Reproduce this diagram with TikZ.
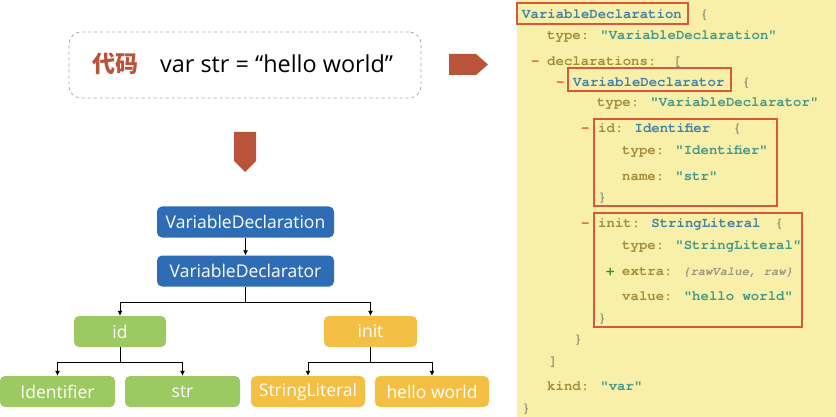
\documentclass[tikz,border=0pt]{standalone}
\usepackage{fontspec}
\usetikzlibrary{arrows.meta}
\setmainfont{Open Sans}
\newfontfamily\codefont{TeX Gyre Cursor}
\newfontfamily\cjkfont{Noto Sans CJK SC}
\definecolor{brick}{HTML}{B9533A}
\definecolor{tblue}{HTML}{2E6DB5}
\definecolor{tgreen}{HTML}{9DC962}
\definecolor{tyellow}{HTML}{F3BF45}
\definecolor{panel}{HTML}{F8F0A8}
\definecolor{keyc}{HTML}{A58E3A}
\definecolor{valc}{HTML}{48998A}
\definecolor{typc}{HTML}{4482A8}
\definecolor{brc}{HTML}{9C9880}
\definecolor{redbox}{HTML}{D9573A}
\definecolor{plusc}{HTML}{3E8E2E}
\newcommand\ky[1]{\textcolor{keyc}{\bfseries #1}}
\newcommand\vl[1]{\textcolor{valc}{\bfseries #1}}
\newcommand\ty[1]{\textcolor{typc}{\bfseries #1}}
\newcommand\br[1]{\textcolor{brc}{\bfseries #1}}
\newcommand\mn{\textcolor{redbox}{\bfseries -}}
\tikzset{
  tnode/.style={rounded corners=5pt, minimum height=31pt, inner sep=0pt, text=white, font=\fontsize{17.5}{17.5}\selectfont},
  bluenode/.style={tnode, fill=tblue, minimum width=177pt},
  greennode/.style={tnode, fill=tgreen},
  yellownode/.style={tnode, fill=tyellow},
  arr/.style={-{Latex[length=5pt,width=5pt]}, line width=0.8pt, black},
  ln/.style={line width=0.8pt, black},
  code/.style={anchor=base west, inner sep=0pt, font=\codefont\fontsize{14}{14}\selectfont},
  hl/.style={draw=redbox, line width=1.6pt},
  bigarrow/.style={fill=brick, draw=none}
}
\begin{document}
\begin{tikzpicture}[x=1pt,y=-1pt]
\useasboundingbox (0,0) rectangle (836,417);
% code box
\node[draw=gray!70, dashed, rounded corners=12pt, minimum width=352pt, minimum height=66pt, line width=0.8pt] (codebox) at (245,65) {};
\node[anchor=base west, inner sep=0pt, text=brick, font=\cjkfont\bfseries\fontsize{23}{23}\selectfont] (cjk) at (92,73) {代码};
\node[anchor=base west, inner sep=0pt, font=\fontsize{23.4}{23.4}\selectfont] (src) at (160,73) {var str = “hello world”};
% big arrows
\path[bigarrow] (449,54) -- (476,54) -- (488,64.5) -- (476,75) -- (449,75) -- cycle;
\path[bigarrow] (234,132) -- (256,132) -- (256,161) -- (245,172) -- (234,161) -- cycle;
% tree
\node[bluenode] (vd1) at (245.5,222) {VariableDeclaration};
\node[bluenode] (vd2) at (245.5,271) {VariableDeclarator};
\node[greennode, minimum width=92pt] (id) at (120,331.5) {id};
\node[yellownode, minimum width=93pt] (init) at (370.5,331.5) {init};
\node[greennode, minimum width=115pt] (ident) at (57.5,391.5) {Identifier};
\node[greennode, minimum width=115pt] (strn) at (182.5,391.5) {str};
\node[yellownode, minimum width=114pt] (sl) at (308,391.5) {StringLiteral};
\node[yellownode, minimum width=114pt] (hw) at (432,391.5) {hello world};
\draw[arr] (vd1) -- (vd2);
\coordinate (j1) at (245.5,302);
\coordinate (j2) at (120,362);
\coordinate (j3) at (370.5,362);
\draw[ln] (vd2.south) -- (j1);
\draw[arr] (j1) -| (id.north);
\draw[arr] (j1) -| (init.north);
\draw[ln] (id.south) -- (j2);
\draw[arr] (j2) -| (ident.north);
\draw[arr] (j2) -| (strn.north);
\draw[ln] (init.south) -- (j3);
\draw[arr] (j3) -| (sl.north);
\draw[arr] (j3) -| (hw.north);
% panel
\fill[panel] (517,0) rectangle (836,417);
\node[code] (l1) at (522,19) {\ty{VariableDeclaration}};
\node[code] (l1b) at (700,19) {\br{\{}};
\node[code] (l2) at (547,40) {\ky{type:} \vl{"VariableDeclaration"}};
\node[code] (l3m) at (531,66) {\mn};
\node[code] (l3) at (547,66) {\ky{declarations:}};
\node[code] (l3b) at (673,66) {\br{[}};
\node[code] (l4m) at (556,87) {\mn};
\node[code] (l4) at (573,87) {\ty{VariableDeclarator}};
\node[code] (l4b) at (742,87) {\br{\{}};
\node[code] (l5) at (597,107) {\ky{type:} \vl{"VariableDeclarator"}};
\node[code] (l6m) at (581,133) {\mn};
\node[code] (l6) at (598,133) {\ky{id:} \ty{Identifier}};
\node[code] (l6b) at (733,133) {\br{\{}};
\node[code] (l7) at (622,155) {\ky{type:} \vl{"Identifier"}};
\node[code] (l8) at (622,181) {\ky{name:} \vl{"str"}};
\node[code] (l9) at (598,202) {\br{\}}};
\node[code] (l10m) at (581,228) {\mn};
\node[code] (l10) at (598,228) {\ky{init:} \ty{StringLiteral}};
\node[code] (l10b) at (775,228) {\br{\{}};
\node[code] (l11) at (622,249) {\ky{type:} \vl{"StringLiteral"}};
\node[code] (l12p) at (606,275) {\textcolor{plusc}{\bfseries +}};
\node[code] (l12) at (622,275) {\ky{extra:}};
\node[code, font=\codefont\bfseries\itshape\fontsize{12.2}{12.2}\selectfont] (l12v) at (683,275) {\textcolor{brc}{\{rawValue, raw\}}};
\node[code] (l13) at (622,300) {\ky{value:} \vl{"hello world"}};
\node[code] (l14) at (598,322) {\br{\}}};
\node[code] (l15) at (574,343) {\br{\}}};
\node[code] (l16) at (549,365) {\br{]}};
\node[code] (l17) at (547,390) {\ky{kind:} \vl{"var"}};
\node[code] (l18) at (522,412) {\br{\}}};
% highlight boxes
\draw[hl] (517,3) rectangle (688,24);
\draw[hl] (568,68) rectangle (731,91);
\draw[hl] (594,119) rectangle (777,206);
\draw[hl] (594,213) rectangle (802,327);
\end{tikzpicture}
\end{document}
